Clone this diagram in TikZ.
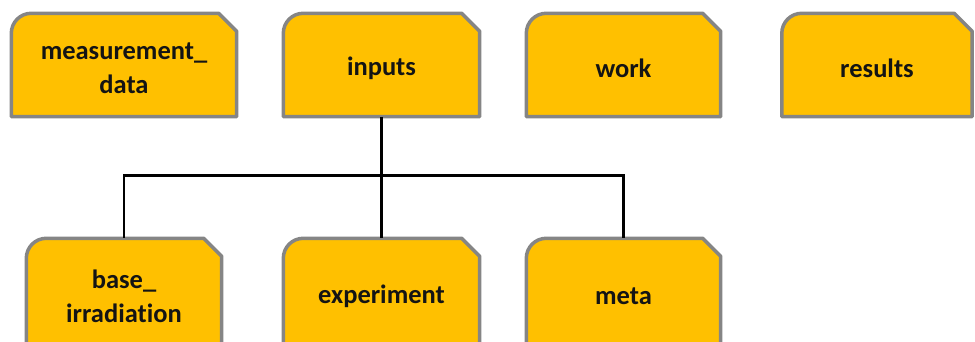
\documentclass[tikz,border=0pt]{standalone}
\usepackage{fontspec}
\setmainfont{Carlito}[Ligatures=NoCommon]
\usetikzlibrary{calc,backgrounds}
\definecolor{folderfill}{HTML}{FFC000}
\definecolor{folderedge}{HTML}{858585}
\tikzset{
  folder/.style={draw=none, fill=none, inner sep=0pt, align=center,
    font=\bfseries\fontsize{26.5}{34}\selectfont, text=black!92},
  foldershape/.style={draw=folderedge, fill=folderfill, line width=3.5pt, line join=round},
  link/.style={draw=black, line width=2.6pt}
}
% folder outline: rounded top-left corner, cut top-right corner;
% #2 lifts the outline relative to the node's text
\newcommand\folderoutline[2]{%
  \draw[foldershape] ($(#1.south west)+(0,#2)$) -- ($(#1.north west)+(0,#2-20pt)$)
    arc[start angle=180, end angle=90, radius=20pt]
    -- ($(#1.north east)+(-18pt,#2)$) -- ($(#1.north east)+(0,#2-18pt)$)
    -- ($(#1.south east)+(0,#2)$) -- cycle;}
\begin{document}
\begin{tikzpicture}[x=1pt, y=1pt]
  \useasboundingbox (0,0) rectangle (975,-342);
  % top row
  \node[folder, minimum width=225pt, minimum height=103pt] (meas) at (124,-68) {measurement\_\\data};
  \node[folder, minimum width=196pt, minimum height=103pt] (inputs) at (381.5,-68) {inputs};
  \node[folder, minimum width=194pt, minimum height=103pt] (work) at (623.5,-68) {work};
  \node[folder, minimum width=190pt, minimum height=103pt] (results) at (877,-68) {results};
  % bottom row
  \node[folder, minimum width=195pt, minimum height=115pt] (base) at (124,-296) {base\_\\irradiation};
  \node[folder, minimum width=196pt, minimum height=115pt] (experiment) at (381.5,-296) {experiment};
  \node[folder, minimum width=194pt, minimum height=115pt] (meta) at (623.5,-296) {meta};
  \begin{pgfonlayer}{background}
    \foreach \n in {meas,inputs,work,results}{\folderoutline{\n}{3pt}}
    \foreach \n in {base,experiment,meta}{\folderoutline{\n}{0pt}}
  \end{pgfonlayer}
  % tree connectors
  \coordinate (bus) at ($(inputs.south)+(0,-56)$);
  \draw[link] ($(inputs.south)+(0,3)$) -- (bus);
  \draw[link] (bus) -| (base.north);
  \draw[link] (bus) -| (meta.north);
  \draw[link] (bus) -- (experiment.north);
\end{tikzpicture}
\end{document}
